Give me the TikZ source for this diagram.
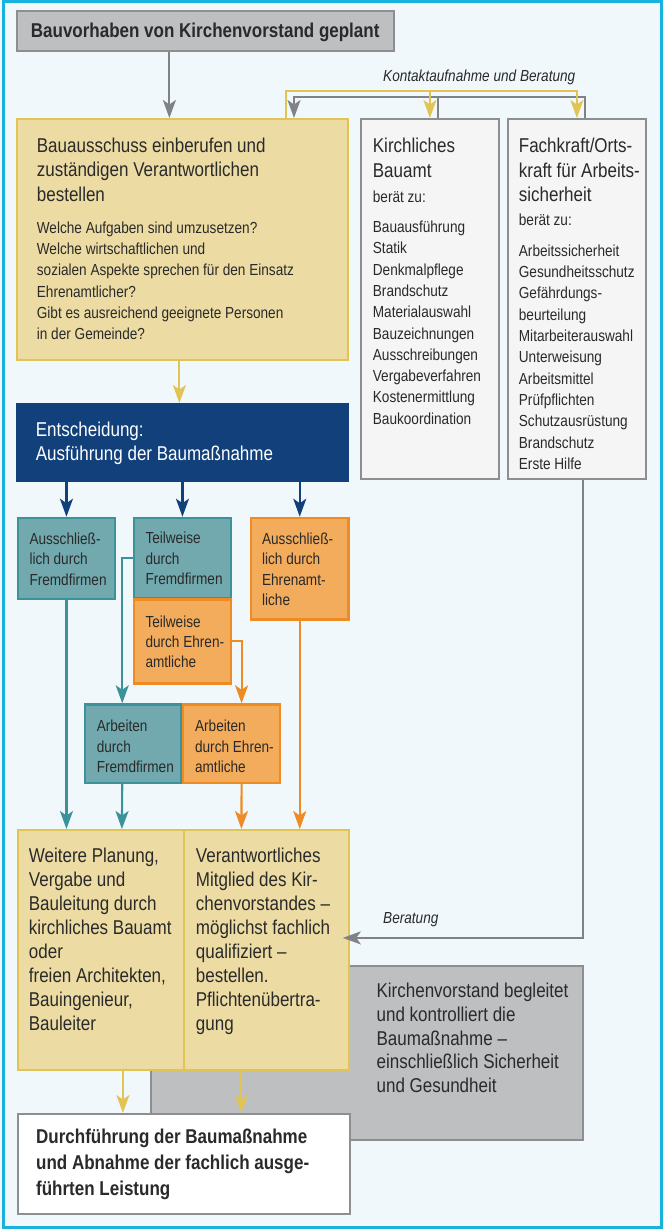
\documentclass[tikz,border=0pt]{standalone}
\usepackage{fontspec}
\setmainfont{Liberation Sans}[FakeStretch=0.85]
\usetikzlibrary{arrows.meta}
\definecolor{hintergrund}{HTML}{F0F8FC}
\definecolor{rahmen}{HTML}{18B2DE}
\definecolor{schrift}{HTML}{2A2A2A}
\definecolor{graufeld}{HTML}{BEBFC1}
\definecolor{graurand}{HTML}{8C8E90}
\definecolor{graulinie}{HTML}{808285}
\definecolor{hellfeld}{HTML}{F5F5F5}
\definecolor{gelbfeld}{HTML}{ECDCA4}
\definecolor{gelbrand}{HTML}{E2C454}
\definecolor{blaufeld}{HTML}{12407B}
\definecolor{tealfeld}{HTML}{71A9AE}
\definecolor{teallinie}{HTML}{3B9399}
\definecolor{orangefeld}{HTML}{F3AC5C}
\definecolor{orangelinie}{HTML}{EE8B22}
% Kasten: Breite, Hoehe, Einzug links, erste Grundlinie, Text
\newcommand{\kasten}[5]{\parbox[c][#2pt][t]{#1pt}{\raggedright\leftskip=#3pt\rule{0pt}{#4pt}#5}}
\newcommand{\kleinschrift}{\fontsize{16}{21.3}\selectfont}

\begin{document}
\begin{tikzpicture}[x=1pt,y=-1pt,
   feld/.style={anchor=north west,inner sep=0pt,line width=1.8pt,text=schrift,
                font=\fontsize{20}{24.2}\selectfont},
   grau/.style={feld,fill=graufeld,draw=graurand},
   hell/.style={feld,fill=hellfeld,draw=graurand},
   gelb/.style={feld,fill=gelbfeld,draw=gelbrand},
   blau/.style={feld,fill=blaufeld,draw=blaufeld,text=white},
   teal/.style={feld,fill=tealfeld,draw=teallinie,line width=2.2pt,font=\fontsize{16}{20.3}\selectfont},
   orange/.style={feld,fill=orangefeld,draw=orangelinie,line width=2.2pt,font=\fontsize{16}{20.3}\selectfont},
   spitze/.style={-{Stealth[length=18pt,width=13pt,inset=4.5pt]},line width=2.1pt},
   graupfeil/.style={spitze,draw=graulinie},
   graustrich/.style={line width=2.1pt,draw=graulinie},
   gelbpfeil/.style={spitze,draw=gelbrand},
   blaupfeil/.style={spitze,draw=blaufeld},
   tealpfeil/.style={spitze,draw=teallinie},
   orangepfeil/.style={spitze,draw=orangelinie},
   hinweis/.style={anchor=base west,inner sep=0pt,text=schrift,font=\fontsize{16}{19}\selectfont\itshape}]

  \useasboundingbox (0,0) rectangle (664,1229);
  \fill[hintergrund] (0,0) rectangle (664,1229);
  \draw[rahmen,line width=3pt] (3.5,1.5) rectangle (661.5,1227.5);

  % --- oben ---
  \node[grau,font=\fontsize{20}{24}\selectfont\bfseries] (start) at (16,10)
    {\kasten{377}{40}{14}{27}{Bauvorhaben von Kirchenvorstand geplant}};
  \node[gelb] (ausschuss) at (16,118)
    {\kasten{331}{241}{20}{33.7}{Bauausschuss einberufen und\\zuständigen Verantwortlichen\\bestellen\par
     \vspace{10.9pt}\kleinschrift Welche Aufgaben sind umzusetzen?\\Welche wirtschaftlichen und\\sozialen Aspekte sprechen für den Einsatz\\Ehrenamtlicher?\\Gibt es ausreichend geeignete Personen\\in der Gemeinde?}};
  \node[hell] (bauamt) at (360,118)
    {\kasten{138}{360}{12}{34}{Kirchliches\\Bauamt\par
     \vspace{4.1pt}\kleinschrift berät zu:\par\vspace{8.7pt}Bauausführung\\Statik\\Denkmalpflege\\Brandschutz\\Materialauswahl\\Bauzeichnungen\\Ausschreibungen\\Vergabeverfahren\\Kostenermittlung\\Baukoordination}};
  \node[hell] (fachkraft) at (507,118)
    {\kasten{138}{360}{11}{34}{Fachkraft/Orts-\\kraft für Arbeits-\\sicherheit\par
     \vspace{2.7pt}\kleinschrift berät zu:\par\vspace{9.7pt}Arbeitssicherheit\\Gesundheitsschutz\\Gefährdungs-\\beurteilung\\Mitarbeiterauswahl\\Unterweisung\\Arbeitsmittel\\Prüfpflichten\\Schutzausrüstung\\Brandschutz\\Erste Hilfe}};
  \node[hinweis] (kontaktlabel) at (383,81.7) {Kontaktaufnahme und Beratung};

  % --- Entscheidung ---
  \node[blau,font=\fontsize{20}{24}\selectfont] (entscheidung) at (16,403)
    {\kasten{331}{77}{19}{33}{Entscheidung:\\Ausführung der Baumaßnahme}};
  \node[teal] (a1) at (16.7,516.7) {\kasten{97.3}{81}{11.7}{26.6}{Ausschließ-\\lich durch\\Fremdfirmen}};
  \node[teal] (a2) at (132.7,516.7) {\kasten{97.3}{80}{11.7}{26}{Teilweise\\durch\\Fremdfirmen}};
  \node[orange] (a3) at (250,516.7) {\kasten{97.3}{101.6}{11}{26.6}{Ausschließ-\\lich durch\\Ehrenamt-\\liche}};
  \node[orange] (b) at (132.7,598.3) {\kasten{97.3}{84}{11.7}{27.7}{Teilweise\\durch Ehren-\\amtliche}};
  \node[teal] (c1) at (84,703.3) {\kasten{96.3}{78.4}{11.7}{27.4}{Arbeiten\\durch\\Fremdfirmen}};
  \node[orange] (c2) at (182,703.3) {\kasten{97}{78.4}{12}{27.4}{Arbeiten\\durch Ehren-\\amtliche}};

  % --- unten ---
  \node[grau,font=\fontsize{20}{23.7}\selectfont] (vorstand) at (150,965)
    {\kasten{432}{174}{225.7}{31.7}{Kirchenvorstand begleitet\\und kontrolliert die\\Baumaßnahme –\\einschließlich Sicherheit\\und Gesundheit}};
  \node[gelb,font=\fontsize{20}{24}\selectfont] (weitere) at (17,829)
    {\kasten{166}{240}{11}{32.7}{Weitere Planung,\\Vergabe und\\Bauleitung durch\\kirchliches Bauamt\\oder\\freien Architekten,\\Bauingenieur,\\Bauleiter}};
  \node[gelb,font=\fontsize{20}{24}\selectfont] (mitglied) at (183,829)
    {\kasten{165}{240}{12}{32.7}{Verantwortliches\\Mitglied des Kir-\\chenvorstandes –\\möglichst fachlich\\qualifiziert –\\bestellen.\\Pflichtenübertra-\\gung}};
  \node[feld,fill=white,draw=graurand,font=\fontsize{20}{26}\selectfont\bfseries] (durchfuehrung) at (17,1113)
    {\kasten{332}{100}{18.3}{30}{Durchführung der Baumaßnahme\\und Abnahme der fachlich ausge-\\führten Leistung}};
  \node[hinweis] (beratunglabel) at (383,923) {Beratung};

  % --- Verbindungen ---
  \coordinate (gelbknick) at (286,91);
  \coordinate (grauknick) at (294,97);
  \draw[graupfeil] ([xshift=-36]start.south) -- ([xshift=-13]ausschuss.north);
  \draw[graustrich] ([xshift=8]bauamt.north) -- ++(0,-21);
  \draw[graupfeil] ([xshift=8]fachkraft.north) |- (grauknick) -- (grauknick |- ausschuss.north);
  \draw[gelbpfeil] (gelbknick |- ausschuss.north) -- (gelbknick) -| (fachkraft.north);
  \draw[gelbpfeil] (gelbknick -| bauamt.north) -- (bauamt.north);
  \draw[gelbpfeil] ([xshift=-3]ausschuss.south) -- ([xshift=-3]entscheidung.north);
  \foreach \z in {a1,a2,a3}
    \draw[blaupfeil] (\z.north |- entscheidung.south) -- (\z.north);
  \draw[tealpfeil] (a2.west) -| ([xshift=-11]c1.north);
  \draw[orangepfeil] (b.east) -| ([xshift=10]c2.north);
  \draw[tealpfeil] (a1.south) -- (a1.south |- weitere.north);
  \draw[tealpfeil] ([xshift=-11]c1.south) -- ([xshift=21]weitere.north);
  \draw[orangepfeil] ([xshift=10]c2.south) -- ([xshift=-25]mitglied.north);
  \draw[orangepfeil] (a3.south) -- (a3.south |- mitglied.north);
  \draw[graupfeil,shorten >=-7pt] ([xshift=6]fachkraft.south) |- ([yshift=12]mitglied.east);
  \draw[gelbpfeil] ([xshift=22]weitere.south) -- ([xshift=-61]durchfuehrung.north);
  \draw[gelbpfeil] ([xshift=-25]mitglied.south) -- ([xshift=57.5]durchfuehrung.north);
\end{tikzpicture}
\end{document}
